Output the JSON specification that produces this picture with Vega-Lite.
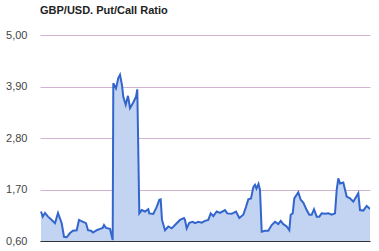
{
  "$schema": "https://vega.github.io/schema/vega-lite/v6.json",
  "width": 330,
  "height": 206,
  "autosize": "none",
  "padding": {"left": 40, "top": 35, "right": 9, "bottom": 10},
  "background": "white",
  "title": {"text": "GBP/USD. Put/Call Ratio", "anchor": "start", "frame": "group", "offset": 13, "fontSize": 11, "fontWeight": "bold", "font": "Liberation Sans", "color": "#222222", "dx": 0},
  "config": {"view": {"stroke": null}},
  "data": {"values": [
    {"x":41,"v":1.23},{"x":42.7,"v":1.12},{"x":45,"v":1.2},{"x":48,"v":1.12},{"x":51.7,"v":1.05},{"x":55,"v":0.98},{"x":58,"v":1.2},{"x":61.7,"v":0.98},{"x":64,"v":0.69},{"x":66.7,"v":0.68},{"x":70,"v":0.77},{"x":73,"v":0.82},{"x":76.7,"v":0.83},{"x":79,"v":1.05},{"x":83,"v":1.01},{"x":86,"v":0.98},{"x":88,"v":0.83},{"x":91,"v":0.82},{"x":93,"v":0.78},{"x":96.7,"v":0.83},{"x":100,"v":0.86},{"x":102.7,"v":0.88},{"x":104,"v":0.94},{"x":106,"v":0.88},{"x":110,"v":0.86},{"x":112.7,"v":0.62},{"x":113.3,"v":3.97},{"x":116,"v":3.86},{"x":118.3,"v":4.08},{"x":120,"v":4.15},{"x":122,"v":3.93},{"x":123.3,"v":3.68},{"x":125.7,"v":3.51},{"x":128,"v":3.7},{"x":130,"v":3.44},{"x":133.3,"v":3.56},{"x":136,"v":3.68},{"x":137.3,"v":3.84},{"x":139.3,"v":1.19},{"x":141.7,"v":1.26},{"x":145,"v":1.23},{"x":148.3,"v":1.28},{"x":149.3,"v":1.19},{"x":153.3,"v":1.18},{"x":156.7,"v":1.33},{"x":159.3,"v":1.48},{"x":160.7,"v":1.49},{"x":162,"v":1.05},{"x":165,"v":0.83},{"x":168.3,"v":0.91},{"x":171.7,"v":0.87},{"x":175,"v":0.94},{"x":180,"v":1.05},{"x":184,"v":1.09},{"x":185,"v":1.05},{"x":186.7,"v":0.87},{"x":189.3,"v":0.99},{"x":192.7,"v":1.01},{"x":195,"v":0.98},{"x":198.3,"v":1.01},{"x":201.7,"v":0.99},{"x":205,"v":1.03},{"x":208.3,"v":1.05},{"x":210.7,"v":1.19},{"x":213.3,"v":1.13},{"x":216.7,"v":1.23},{"x":220,"v":1.2},{"x":225,"v":1.26},{"x":227.3,"v":1.19},{"x":231.7,"v":1.18},{"x":236,"v":1.23},{"x":239.3,"v":1.09},{"x":243.3,"v":1.16},{"x":246,"v":1.33},{"x":248.3,"v":1.49},{"x":251,"v":1.51},{"x":253.3,"v":1.75},{"x":255,"v":1.8},{"x":256.5,"v":1.72},{"x":258.5,"v":1.82},{"x":260,"v":1.69},{"x":261.7,"v":0.8},{"x":265,"v":0.82},{"x":268.3,"v":0.82},{"x":271.7,"v":0.94},{"x":275,"v":1.01},{"x":278.3,"v":0.96},{"x":280.7,"v":1.03},{"x":283.3,"v":0.96},{"x":286.7,"v":0.91},{"x":289.3,"v":0.83},{"x":290.7,"v":1.16},{"x":292.7,"v":1.19},{"x":294.3,"v":1.51},{"x":298.3,"v":1.64},{"x":300.7,"v":1.48},{"x":303.3,"v":1.42},{"x":306.7,"v":1.26},{"x":309.3,"v":1.16},{"x":311.7,"v":1.16},{"x":314,"v":1.28},{"x":316.7,"v":1.12},{"x":319.3,"v":1.12},{"x":321.7,"v":1.19},{"x":325,"v":1.18},{"x":328.3,"v":1.19},{"x":331.7,"v":1.16},{"x":335,"v":1.19},{"x":336.7,"v":1.69},{"x":338.3,"v":1.94},{"x":340,"v":1.83},{"x":343.3,"v":1.85},{"x":346.7,"v":1.55},{"x":350,"v":1.51},{"x":353.3,"v":1.44},{"x":358.3,"v":1.62},{"x":360,"v":1.26},{"x":363.3,"v":1.25},{"x":366.7,"v":1.35},{"x":369.3,"v":1.3},{"x":370.7,"v":1.28}
  ]},
  "layer": [
    {
      "mark": {"type": "area", "fill": "#c2d4f2", "fillOpacity": 1, "line": {"color": "#3366cc", "strokeWidth": 2}, "clip": true},
      "encoding": {
        "x": {"field": "x", "type": "quantitative", "scale": {"domain": [40, 370], "nice": false, "zero": false},
          "axis": {"title": null, "labels": false, "ticks": false, "grid": false, "domain": true, "domainColor": "#333333", "domainWidth": 1}},
        "y": {"field": "v", "type": "quantitative", "scale": {"domain": [0.6, 5.0], "nice": false, "zero": false},
          "axis": {"title": null, "values": [0.6, 1.7, 2.8, 3.9, 5.0], "labelExpr": "replace(format(datum.value, '.2f'), '.', ',')", "domain": false, "ticks": false, "labelPadding": 13, "labelFont": "Liberation Sans", "labelFontSize": 11, "labelColor": "#444444", "gridColor": "#d2b4d2", "gridWidth": 1}}
      }
    }
  ]
}
